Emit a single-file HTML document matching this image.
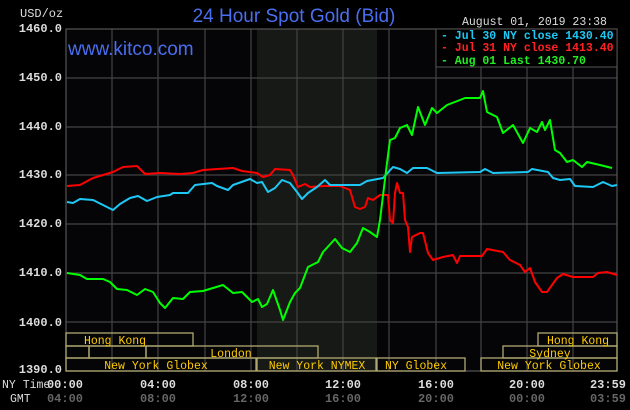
<!DOCTYPE html>
<html><head><style>
body{margin:0;background:#000;}
svg{display:block;}
.m{font-family:"Liberation Mono",monospace;}
.s{font-family:"Liberation Sans",sans-serif;}
</style></head><body>
<svg width="630" height="410" viewBox="0 0 630 410" xmlns="http://www.w3.org/2000/svg">
<rect width="630" height="410" fill="#000"/>
<rect x="66" y="29" width="551" height="342" fill="#050508"/>
<rect x="257" y="29" width="120" height="342" fill="#161915"/>
<g stroke="#444" stroke-width="1.2">
<line x1="66" y1="78" x2="617" y2="78"/><line x1="66" y1="127" x2="617" y2="127"/>
<line x1="66" y1="175" x2="617" y2="175"/><line x1="66" y1="224" x2="617" y2="224"/>
<line x1="66" y1="273" x2="617" y2="273"/><line x1="66" y1="322" x2="617" y2="322"/>
<line x1="112" y1="29" x2="112" y2="371"/><line x1="158" y1="29" x2="158" y2="371"/>
<line x1="205" y1="29" x2="205" y2="371"/><line x1="251" y1="29" x2="251" y2="371"/>
<line x1="297" y1="29" x2="297" y2="371"/><line x1="343" y1="29" x2="343" y2="371"/>
<line x1="389" y1="29" x2="389" y2="371"/><line x1="436" y1="29" x2="436" y2="371"/>
<line x1="481" y1="29" x2="481" y2="371"/><line x1="527" y1="29" x2="527" y2="371"/>
<line x1="573" y1="29" x2="573" y2="371"/>
</g>
<rect x="66" y="29" width="551" height="342" fill="none" stroke="#555" stroke-width="1.2"/>
<g class="m" font-size="12" fill="#ddd" text-anchor="end" font-weight="bold">
<text x="62" y="32">1460.0</text><text x="62" y="81">1450.0</text><text x="62" y="130">1440.0</text>
<text x="62" y="178">1430.0</text><text x="62" y="227">1420.0</text><text x="62" y="276">1410.0</text>
<text x="62" y="326">1400.0</text><text x="62" y="373">1390.0</text>
</g>
<text class="m" x="20" y="17" font-size="12" fill="#ddd">USD/oz</text>
<text class="s" x="294" y="22" font-size="19" fill="#4a6ef0" text-anchor="middle">24 Hour Spot Gold (Bid)</text>
<text class="m" x="462" y="25" font-size="11.5" fill="#ddd">August 01, 2019 23:38</text>
<text class="s" x="68" y="55" font-size="19" fill="#4a6ef0">www.kitco.com</text>
<rect x="436" y="29" width="181" height="38" fill="#000" stroke="#555"/>
<g class="m" font-size="11.5" font-weight="bold">
<text x="441" y="39" fill="#1ec8f5">- Jul 30 NY close 1430.40</text>
<text x="441" y="51" fill="#f22">- Jul 31 NY close 1413.40</text>
<text x="441" y="64" fill="#2e2">- Aug 01 Last 1430.70</text>
</g>
<g fill="none" stroke-width="2" stroke-linejoin="round">
<polyline stroke="#f00" points="67,186 80,185 93,178 103,175 113,172 123,167 137,166 145,174 160,173 180,174 193,173 203,170 233,168 242,171 257,173 263,177 270,175 275,169 290,170 293,175 298,187 305,184 310,187 323,186 340,186 350,190 355,207 360,209 365,207 368,198 373,200 380,195 388,195 390,220 393,223 395,193 397,183 400,193 403,193 405,220 408,227 410,252 412,237 420,233 423,233 428,253 433,260 443,257 453,255 457,263 460,256 482,256 487,249 503,252 510,260 520,265 525,272 530,268 535,282 542,292 547,292 557,278 563,274 573,277 593,277 598,273 607,272 617,275"/>
<polyline stroke="#1ec8f5" points="67,202 73,203 80,199 93,200 103,205 113,210 120,204 130,198 138,196 147,201 157,197 170,195 173,193 188,193 195,185 212,183 217,186 228,190 233,185 250,179 257,183 262,182 268,192 275,188 282,180 290,183 297,192 302,199 308,193 317,187 325,180 330,185 340,185 360,185 367,181 383,178 393,167 400,169 407,173 413,168 427,168 437,173 480,172 485,169 493,173 528,172 532,169 548,172 553,178 560,180 570,179 575,186 593,187 603,182 612,186 617,185"/>
<polyline stroke="#0f0" points="67,273 80,275 87,279 103,279 110,282 117,289 127,290 137,295 145,289 153,292 160,303 165,308 173,298 183,299 190,292 203,291 213,288 223,285 233,293 242,292 252,302 258,299 262,307 267,304 273,290 280,310 283,320 290,302 295,293 300,288 308,267 318,262 323,252 335,239 342,248 350,252 357,243 363,228 370,232 377,237 380,220 387,163 390,140 395,138 400,128 407,125 412,135 418,107 425,125 432,108 437,113 447,105 460,100 465,98 480,98 483,91 487,112 497,117 503,133 513,125 523,143 530,128 537,132 542,122 545,130 550,120 555,150 560,153 567,162 573,160 582,167 587,162 600,165 612,168"/>
</g>
<g fill="none" stroke="#b0a870" stroke-width="1.3">
<rect x="66" y="333" width="127" height="13"/><rect x="538" y="333" width="79" height="13"/>
<rect x="66" y="346" width="23" height="12"/><rect x="89" y="346" width="57" height="12"/><rect x="146" y="346" width="172" height="12"/>
<rect x="503" y="346" width="114" height="12"/>
<rect x="66" y="358" width="190" height="13"/><rect x="257" y="358" width="119" height="13"/><rect x="377" y="358" width="88" height="13"/><rect x="481" y="358" width="136" height="13"/>
</g>
<g class="m" font-size="11.5" fill="#fc0" text-anchor="middle">
<text x="115" y="344">Hong Kong</text><text x="578" y="344">Hong Kong</text>
<text x="231" y="357">London</text><text x="550" y="357">Sydney</text>
<text x="156" y="369">New York Globex</text><text x="317" y="369">New York NYMEX</text>
<text x="416" y="369">NY Globex</text><text x="549" y="369">New York Globex</text>
</g>
<text class="m" x="2" y="388" font-size="11.5" fill="#ddd">NY Time</text>
<text class="m" x="10" y="402" font-size="11.5" fill="#ddd">GMT</text>
<g class="m" font-size="12" font-weight="bold" fill="#ddd" text-anchor="middle">
<text x="65" y="388">00:00</text><text x="158" y="388">04:00</text><text x="251" y="388">08:00</text>
<text x="343" y="388">12:00</text><text x="436" y="388">16:00</text><text x="527" y="388">20:00</text><text x="608" y="388">23:59</text>
</g>
<g class="m" font-size="12" font-weight="bold" fill="#666" text-anchor="middle">
<text x="65" y="402">04:00</text><text x="158" y="402">08:00</text><text x="251" y="402">12:00</text>
<text x="343" y="402">16:00</text><text x="436" y="402">20:00</text><text x="527" y="402">00:00</text><text x="608" y="402">03:59</text>
</g>
</svg>
</body></html>
